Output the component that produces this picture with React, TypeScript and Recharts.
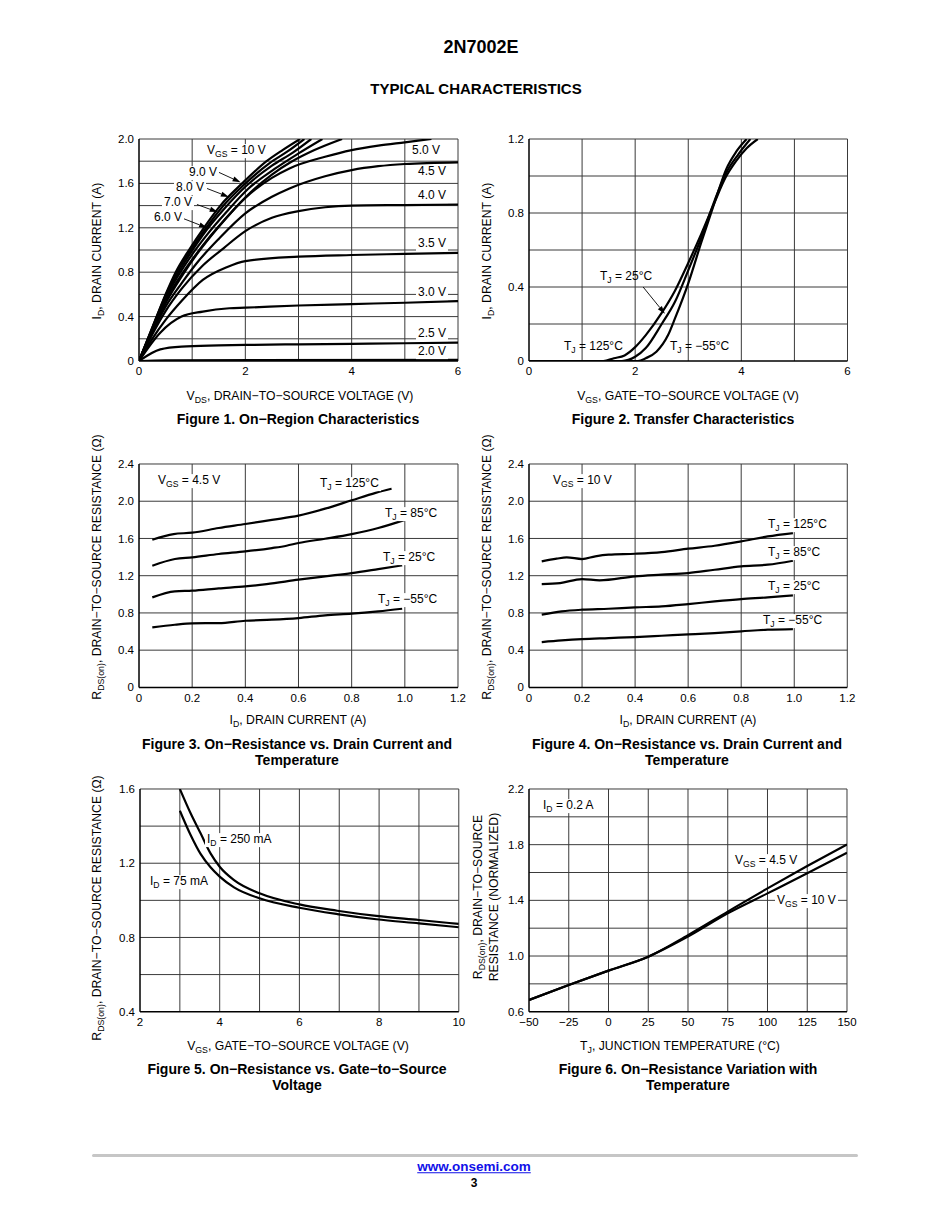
import React from 'react'
import { LineChart, Line, XAxis, YAxis, ReferenceLine } from 'recharts'

const FONT = "'Liberation Sans', Arial, Helvetica, sans-serif"
const GRID = '#3a3a3a'

type Pt = [number, number]

// Figure 1: on-region, ID vs VDS for each VGS
const vgs10: Pt[] = [[0, 0], [0.25, 0.3], [0.5, 0.6], [0.69, 0.8], [0.94, 1.0], [1.22, 1.2], [1.53, 1.4], [1.94, 1.6], [2.4, 1.8], [2.7, 1.9], [3.03, 2.0]]
const vgs9: Pt[] = [[0, 0], [0.25, 0.3], [0.5, 0.59], [0.7, 0.79], [0.96, 0.99], [1.25, 1.19], [1.57, 1.39], [1.98, 1.59], [2.45, 1.78], [2.8, 1.89], [3.11, 2.0]]
const vgs8: Pt[] = [[0, 0], [0.25, 0.29], [0.5, 0.58], [0.72, 0.78], [0.98, 0.98], [1.27, 1.18], [1.6, 1.37], [2.0, 1.57], [2.5, 1.76], [2.9, 1.88], [3.24, 2.0]]
const vgs7: Pt[] = [[0, 0], [0.25, 0.29], [0.5, 0.57], [0.74, 0.77], [1.0, 0.96], [1.3, 1.15], [1.64, 1.34], [2.05, 1.55], [2.55, 1.73], [3.0, 1.87], [3.45, 2.0]]
const vgs6: Pt[] = [[0, 0], [0.25, 0.28], [0.5, 0.55], [0.76, 0.75], [1.04, 0.94], [1.35, 1.13], [1.7, 1.32], [2.1, 1.52], [2.5, 1.68], [2.85, 1.79], [3.3, 1.9], [3.82, 2.0]]
const vgs5: Pt[] = [[0, 0], [0.25, 0.27], [0.5, 0.52], [0.8, 0.76], [1.1, 0.97], [1.5, 1.21], [2, 1.47], [2.5, 1.65], [2.83, 1.735], [3.5, 1.84], [4, 1.9], [4.5, 1.94], [5, 1.97], [5.5, 2.0]]
const vgs45: Pt[] = [[0, 0], [0.25, 0.26], [0.5, 0.49], [0.8, 0.7], [1.1, 0.89], [1.5, 1.1], [2, 1.33], [2.5, 1.48], [2.83, 1.555], [3.5, 1.665], [4, 1.72], [4.5, 1.755], [5, 1.775], [6, 1.79]]
const vgs4: Pt[] = [[0, 0], [0.25, 0.24], [0.5, 0.45], [0.8, 0.65], [1.2, 0.86], [1.6, 1.02], [2, 1.17], [2.5, 1.29], [3, 1.35], [3.5, 1.385], [4, 1.4], [5, 1.405], [6, 1.41]]
const vgs35: Pt[] = [[0, 0], [0.25, 0.2], [0.5, 0.37], [0.8, 0.54], [1.2, 0.73], [1.65, 0.845], [2, 0.9], [3, 0.94], [4, 0.955], [5, 0.965], [6, 0.975]]
const vgs3: Pt[] = [[0, 0], [0.4, 0.255], [0.8, 0.4], [1.2, 0.445], [1.7, 0.475], [2, 0.48], [3, 0.5], [4, 0.513], [5, 0.525], [6, 0.54]]
const vgs25: Pt[] = [[0, 0], [0.4, 0.105], [0.8, 0.13], [1.5, 0.14], [2, 0.145], [3, 0.15], [4, 0.155], [5, 0.16], [6, 0.165]]
const vgs2: Pt[] = [[0, 0], [0.5, 0.006], [6, 0.01]]
const fig1Arrows = [[1.5, 1.7, 1.91, 1.61], [1.28, 1.554, 1.69, 1.478], [1.09, 1.41, 1.48, 1.342], [0.84, 1.282, 1.28, 1.2]]

// Figure 2: transfer, ID vs VGS
const tr125: Pt[] = [[0, 0], [1.4, 0], [1.6, 0.015], [1.8, 0.03], [2.0, 0.075], [2.2, 0.14], [2.5, 0.26], [2.75, 0.38], [3.0, 0.53], [3.25, 0.69], [3.5, 0.86], [3.7, 0.99], [3.9, 1.08], [4.1, 1.15], [4.31, 1.2]]
const tr25: Pt[] = [[0, 0], [1.75, 0], [2.0, 0.023], [2.2, 0.07], [2.5, 0.2], [2.75, 0.32], [3.0, 0.49], [3.25, 0.67], [3.5, 0.87], [3.72, 1.02], [3.95, 1.12], [4.17, 1.2]]
const trM55: Pt[] = [[0, 0], [2.05, 0], [2.2, 0.015], [2.4, 0.05], [2.62, 0.14], [2.75, 0.23], [3.0, 0.42], [3.25, 0.645], [3.5, 0.86], [3.72, 1.04], [3.9, 1.13], [4.1, 1.2]]
const fig2Arrows = [[2.15, 0.4, 2.56, 0.255]]

// Figure 3: RDS(on) vs ID, VGS = 4.5 V
const r45t125: Pt[] = [[0.05, 1.587], [0.13, 1.647], [0.2, 1.662], [0.3, 1.712], [0.4, 1.755], [0.5, 1.8], [0.6, 1.845], [0.7, 1.92], [0.8, 2.01], [0.89, 2.09], [0.95, 2.135]]
const r45t85: Pt[] = [[0.05, 1.307], [0.135, 1.379], [0.2, 1.397], [0.3, 1.433], [0.4, 1.461], [0.5, 1.497], [0.555, 1.522], [0.6, 1.551], [0.7, 1.597], [0.8, 1.647], [0.9, 1.712], [1.0, 1.8]]
const r45t25: Pt[] = [[0.05, 0.967], [0.135, 1.031], [0.2, 1.039], [0.3, 1.064], [0.4, 1.085], [0.48, 1.11], [0.6, 1.157], [0.7, 1.193], [0.8, 1.228], [0.9, 1.271], [0.99, 1.311]]
const r45tm55: Pt[] = [[0.05, 0.645], [0.135, 0.673], [0.2, 0.688], [0.3, 0.691], [0.4, 0.716], [0.5, 0.727], [0.6, 0.745], [0.7, 0.774], [0.8, 0.792], [0.9, 0.817], [0.99, 0.845]]

// Figure 4: RDS(on) vs ID, VGS = 10 V
const r10t125: Pt[] = [[0.048, 1.354], [0.104, 1.383], [0.142, 1.397], [0.2, 1.379], [0.25, 1.408], [0.3, 1.426], [0.4, 1.436], [0.5, 1.454], [0.6, 1.49], [0.7, 1.522], [0.8, 1.569], [0.9, 1.622], [0.995, 1.658]]
const r10t85: Pt[] = [[0.048, 1.11], [0.117, 1.121], [0.2, 1.164], [0.266, 1.15], [0.4, 1.193], [0.5, 1.211], [0.6, 1.228], [0.7, 1.264], [0.8, 1.3], [0.9, 1.318], [0.995, 1.361]]
const r10t25: Pt[] = [[0.048, 0.781], [0.123, 0.817], [0.2, 0.835], [0.3, 0.845], [0.4, 0.86], [0.5, 0.87], [0.6, 0.895], [0.7, 0.924], [0.8, 0.949], [0.9, 0.967], [0.995, 0.989]]
const r10tm55: Pt[] = [[0.048, 0.487], [0.123, 0.505], [0.2, 0.519], [0.3, 0.53], [0.4, 0.541], [0.5, 0.555], [0.6, 0.569], [0.7, 0.584], [0.8, 0.602], [0.9, 0.62], [0.995, 0.627]]

// Figure 5: RDS(on) vs VGS
const fig5Vgs = [3.0, 3.27, 3.52, 3.77, 4.0, 4.36, 5.0, 6.0, 6.95, 7.93, 9.0, 10]
const fig5Id250 = [1.6, 1.469, 1.361, 1.253, 1.181, 1.109, 1.038, 0.978, 0.944, 0.916, 0.894, 0.873]
const fig5Id75 = [1.483, 1.352, 1.25, 1.178, 1.128, 1.07, 1.011, 0.96, 0.926, 0.898, 0.876, 0.855]

// Figure 6: normalized RDS(on) vs TJ
const fig6Tj = [-50, -25, 0, 25, 50, 75, 100, 125, 150]
const fig6Vgs45 = [0.684, 0.792, 0.895, 0.995, 1.15, 1.319, 1.486, 1.647, 1.802]
const fig6Vgs10 = [0.684, 0.792, 0.895, 0.995, 1.14, 1.307, 1.45, 1.594, 1.742]

const zip = (xs: number[], ys: number[]): Pt[] => xs.map((x, i) => [x, ys[i]])

const fmt1 = (v: number) => (v === 0 ? '0' : v.toFixed(1))
const fmtInt = (v: number) => (v < 0 ? '\u2212' + Math.abs(v) : String(v))

function Arrow(p: any) {
  const { x1, y1, x2, y2 } = p
  if ([x1, y1, x2, y2].some((v) => typeof v !== 'number' || isNaN(v))) return null
  const a = Math.atan2(y2 - y1, x2 - x1)
  const L = 8, W = 2.6
  const bx = x2 - L * Math.cos(a), by = y2 - L * Math.sin(a)
  const pts = `${x2},${y2} ${bx + W * Math.sin(a)},${by - W * Math.cos(a)} ${bx - W * Math.sin(a)},${by + W * Math.cos(a)}`
  return (
    <g>
      <line x1={x1} y1={y1} x2={bx} y2={by} stroke="#000" strokeWidth={0.9} />
      <polygon points={pts} fill="#000" />
    </g>
  )
}

interface PlotProps {
  x: number; y: number; w: number; h: number
  xd: [number, number]; yd: [number, number]
  xt: number[]; yt: number[]; xg: number[]; yg: number[]
  xf?: (v: number) => string; yf?: (v: number) => string
  lines: Pt[][]
  arrows?: number[][]
}

function Plot({ x, y, w, h, xd, yd, xt, yt, xg, yg, xf, yf, lines, arrows }: PlotProps) {
  const ML = 40, MT = 10, MR = 20, XH = 25
  const tick = { fontSize: 11.5, fill: '#000', fontFamily: FONT }
  return (
    <div style={{ position: 'absolute', left: x - ML, top: y - MT }}>
      <LineChart width={w + ML + MR} height={h + MT + XH} margin={{ top: MT, right: MR, bottom: 0, left: 0 }}>
        <XAxis type="number" dataKey="x" domain={xd} ticks={xt} interval={0} allowDataOverflow
          tickLine={false} tickSize={0} tickMargin={6} height={XH}
          axisLine={{ stroke: '#000', strokeWidth: 1.5 }} tick={tick} tickFormatter={xf} />
        <YAxis type="number" dataKey="y" domain={yd} ticks={yt} interval={0} allowDataOverflow
          tickLine={false} tickSize={0} tickMargin={5} width={ML}
          axisLine={{ stroke: '#000', strokeWidth: 1.5 }} tick={tick} tickFormatter={yf} />
        {xg.map((v) => <ReferenceLine key={'gx' + v} x={v} stroke={GRID} strokeWidth={1} />)}
        {yg.map((v) => <ReferenceLine key={'gy' + v} y={v} stroke={GRID} strokeWidth={1} />)}
        {(arrows || []).map((a, i) => (
          <ReferenceLine key={'ar' + i} segment={[{ x: a[0], y: a[1] }, { x: a[2], y: a[3] }]} shape={Arrow} />
        ))}
        {lines.map((d, i) => (
          <Line key={i} data={d.map(([px, py]) => ({ x: px, y: py }))} dataKey="y" type="monotone"
            stroke="#000" strokeWidth={2.2} strokeLinejoin="round" dot={false} activeDot={false}
            isAnimationActive={false} />
        ))}
      </LineChart>
    </div>
  )
}

function Sub({ children }: { children: React.ReactNode }) {
  return <span style={{ fontSize: '0.72em', position: 'relative', top: '0.32em' }}>{children}</span>
}

interface TxtProps {
  x: number; y: number; size?: number; bold?: boolean; center?: boolean; bg?: boolean
  color?: string; underline?: boolean; children: React.ReactNode
}

function Txt({ x, y, size = 12, bold, center, bg, color = '#000', underline, children }: TxtProps) {
  return (
    <div style={{
      position: 'absolute', left: x, top: y,
      transform: center ? 'translate(-50%, -50%)' : 'translateY(-50%)',
      fontSize: size, fontWeight: bold ? 700 : 400, whiteSpace: 'nowrap', lineHeight: 1.15,
      color, textDecoration: underline ? 'underline' : 'none', textAlign: 'center',
      background: bg ? '#fff' : 'transparent', padding: bg ? '0 2px' : 0, marginLeft: bg ? -2 : 0,
    }}>{children}</div>
  )
}

function VTxt({ x, y, size = 12.2, children }: { x: number; y: number; size?: number; children: React.ReactNode }) {
  return (
    <div style={{
      position: 'absolute', left: x, top: y, transform: 'translate(-50%, -50%) rotate(-90deg)',
      fontSize: size, whiteSpace: 'nowrap', lineHeight: '15px', textAlign: 'center',
    }}>{children}</div>
  )
}

const RdsTitle = () => <>R<Sub>DS(on)</Sub>, DRAIN−TO−SOURCE RESISTANCE (Ω)</>

export default function App() {
  return (
    <div style={{ position: 'absolute', left: 0, top: 0, width: 950, height: 1230, background: '#fff', fontFamily: FONT, color: '#000' }}>
      <Txt x={481} y={47} size={18} bold center>2N7002E</Txt>
      <Txt x={476} y={89} size={15} bold center>TYPICAL CHARACTERISTICS</Txt>

      {/* Figure 1 */}
      <Plot x={139.3} y={139} w={319} h={222} xd={[0, 6]} yd={[0, 2]}
        xt={[0, 2, 4, 6]} yt={[0, 0.4, 0.8, 1.2, 1.6, 2.0]}
        xg={[1, 2, 3, 4, 5, 6]} yg={[0.2, 0.4, 0.6, 0.8, 1.0, 1.2, 1.4, 1.6, 1.8, 2.0]}
        yf={fmt1}
        lines={[vgs2, vgs25, vgs3, vgs35, vgs4, vgs45, vgs5, vgs6, vgs7, vgs8, vgs9, vgs10]}
        arrows={fig1Arrows} />
      <Txt x={207} y={151} bg>V<Sub>GS</Sub> = 10 V</Txt>
      <Txt x={189} y={173} bg>9.0 V</Txt>
      <Txt x={176} y={188} bg>8.0 V</Txt>
      <Txt x={164} y={203} bg>7.0 V</Txt>
      <Txt x={154} y={218} bg>6.0 V</Txt>
      <Txt x={412} y={151} bg>5.0 V</Txt>
      <Txt x={418} y={172} bg>4.5 V</Txt>
      <Txt x={418} y={196} bg>4.0 V</Txt>
      <Txt x={418} y={244} bg>3.5 V</Txt>
      <Txt x={418} y={293} bg>3.0 V</Txt>
      <Txt x={418} y={334} bg>2.5 V</Txt>
      <Txt x={418} y={352} bg>2.0 V</Txt>
      <VTxt x={98} y={251}>I<Sub>D</Sub>, DRAIN CURRENT (A)</VTxt>
      <Txt x={300} y={396} size={12.2} center>V<Sub>DS</Sub>, DRAIN−TO−SOURCE VOLTAGE (V)</Txt>
      <Txt x={298} y={419} size={14} bold center>Figure 1. On−Region Characteristics</Txt>

      {/* Figure 2 */}
      <Plot x={529.3} y={139} w={318.5} h={222} xd={[0, 6]} yd={[0, 1.2]}
        xt={[0, 2, 4, 6]} yt={[0, 0.4, 0.8, 1.2]}
        xg={[1, 2, 3, 4, 5, 6]} yg={[0.2, 0.4, 0.6, 0.8, 1.0, 1.2]}
        yf={fmt1}
        lines={[tr125, tr25, trM55]} arrows={fig2Arrows} />
      <Txt x={600} y={277}>T<Sub>J</Sub> = 25°C</Txt>
      <Txt x={564} y={347}>T<Sub>J</Sub> = 125°C</Txt>
      <Txt x={670} y={347}>T<Sub>J</Sub> = −55°C</Txt>
      <VTxt x={488} y={251}>I<Sub>D</Sub>, DRAIN CURRENT (A)</VTxt>
      <Txt x={688} y={396} size={12.2} center>V<Sub>GS</Sub>, GATE−TO−SOURCE VOLTAGE (V)</Txt>
      <Txt x={683} y={419} size={14} bold center>Figure 2. Transfer Characteristics</Txt>

      {/* Figure 3 */}
      <Plot x={139.3} y={464.3} w={319} h={223.4} xd={[0, 1.2]} yd={[0, 2.4]}
        xt={[0, 0.2, 0.4, 0.6, 0.8, 1.0, 1.2]} yt={[0, 0.4, 0.8, 1.2, 1.6, 2.0, 2.4]}
        xg={[0.2, 0.4, 0.6, 0.8, 1.0, 1.2]} yg={[0.4, 0.8, 1.2, 1.6, 2.0, 2.4]}
        xf={fmt1} yf={fmt1}
        lines={[r45t125, r45t85, r45t25, r45tm55]} />
      <Txt x={158} y={481} bg>V<Sub>GS</Sub> = 4.5 V</Txt>
      <Txt x={320} y={484} bg>T<Sub>J</Sub> = 125°C</Txt>
      <Txt x={385} y={514} bg>T<Sub>J</Sub> = 85°C</Txt>
      <Txt x={383} y={558} bg>T<Sub>J</Sub> = 25°C</Txt>
      <Txt x={378} y={600} bg>T<Sub>J</Sub> = −55°C</Txt>
      <VTxt x={98} y={567}><RdsTitle /></VTxt>
      <Txt x={298} y={720} size={12.2} center>I<Sub>D</Sub>, DRAIN CURRENT (A)</Txt>
      <Txt x={297} y={752} size={14} bold center>Figure 3. On−Resistance vs. Drain Current and<br />Temperature</Txt>

      {/* Figure 4 */}
      <Plot x={529.3} y={464.3} w={318.3} h={223.4} xd={[0, 1.2]} yd={[0, 2.4]}
        xt={[0, 0.2, 0.4, 0.6, 0.8, 1.0, 1.2]} yt={[0, 0.4, 0.8, 1.2, 1.6, 2.0, 2.4]}
        xg={[0.2, 0.4, 0.6, 0.8, 1.0, 1.2]} yg={[0.4, 0.8, 1.2, 1.6, 2.0, 2.4]}
        xf={fmt1} yf={fmt1}
        lines={[r10t125, r10t85, r10t25, r10tm55]} />
      <Txt x={553} y={481} bg>V<Sub>GS</Sub> = 10 V</Txt>
      <Txt x={768} y={525} bg>T<Sub>J</Sub> = 125°C</Txt>
      <Txt x={768} y={553} bg>T<Sub>J</Sub> = 85°C</Txt>
      <Txt x={768} y={587} bg>T<Sub>J</Sub> = 25°C</Txt>
      <Txt x={763} y={621} bg>T<Sub>J</Sub> = −55°C</Txt>
      <VTxt x={488} y={567}><RdsTitle /></VTxt>
      <Txt x={688} y={720} size={12.2} center>I<Sub>D</Sub>, DRAIN CURRENT (A)</Txt>
      <Txt x={687} y={752} size={14} bold center>Figure 4. On−Resistance vs. Drain Current and<br />Temperature</Txt>

      {/* Figure 5 */}
      <Plot x={139.5} y={789} w={318.8} h={222.7} xd={[2, 10]} yd={[0.4, 1.6]}
        xt={[2, 4, 6, 8, 10]} yt={[0.4, 0.8, 1.2, 1.6]}
        xg={[3, 4, 5, 6, 7, 8, 9, 10]} yg={[0.6, 0.8, 1.0, 1.2, 1.4, 1.6]}
        yf={fmt1}
        lines={[zip(fig5Vgs, fig5Id250), zip(fig5Vgs, fig5Id75)]} />
      <Txt x={207} y={840} bg>I<Sub>D</Sub> = 250 mA</Txt>
      <Txt x={150} y={882} bg>I<Sub>D</Sub> = 75 mA</Txt>
      <VTxt x={98} y={908}><RdsTitle /></VTxt>
      <Txt x={298} y={1046} size={12.2} center>V<Sub>GS</Sub>, GATE−TO−SOURCE VOLTAGE (V)</Txt>
      <Txt x={297} y={1077} size={14} bold center>Figure 5. On−Resistance vs. Gate−to−Source<br />Voltage</Txt>

      {/* Figure 6 */}
      <Plot x={529.3} y={789} w={318} h={222.7} xd={[-50, 150]} yd={[0.6, 2.2]}
        xt={[-50, -25, 0, 25, 50, 75, 100, 125, 150]} yt={[0.6, 1.0, 1.4, 1.8, 2.2]}
        xg={[-25, 0, 25, 50, 75, 100, 125, 150]} yg={[0.8, 1.0, 1.2, 1.4, 1.6, 1.8, 2.0, 2.2]}
        xf={fmtInt} yf={fmt1}
        lines={[zip(fig6Tj, fig6Vgs45), zip(fig6Tj, fig6Vgs10)]} />
      <Txt x={543} y={806} bg>I<Sub>D</Sub> = 0.2 A</Txt>
      <Txt x={735} y={861} bg>V<Sub>GS</Sub> = 4.5 V</Txt>
      <Txt x={777} y={901} bg>V<Sub>GS</Sub> = 10 V</Txt>
      <VTxt x={485.5} y={897}>R<Sub>DS(on)</Sub>, DRAIN−TO−SOURCE<br />RESISTANCE (NORMALIZED)</VTxt>
      <Txt x={680} y={1046} size={12.2} center>T<Sub>J</Sub>, JUNCTION TEMPERATURE (°C)</Txt>
      <Txt x={688} y={1077} size={14} bold center>Figure 6. On−Resistance Variation with<br />Temperature</Txt>

      {/* footer */}
      <div style={{ position: 'absolute', left: 92, top: 1153.5, width: 766, height: 3, background: '#c6c6c6', borderRadius: 2 }} />
      <Txt x={474} y={1167} size={13.5} bold center color="#1010e8" underline>www.onsemi.com</Txt>
      <Txt x={474} y={1184} size={12} bold center>3</Txt>
    </div>
  )
}
